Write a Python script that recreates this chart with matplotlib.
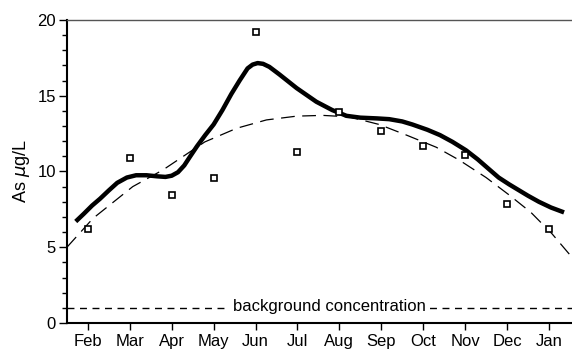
import numpy as np
import matplotlib.pyplot as plt

plt.rcParams['font.family'] = ['Liberation Sans', 'DejaVu Sans']

# Months (Feb .. Jan) placed at positions 1..12
months = ["Feb", "Mar", "Apr", "May", "Jun", "Jul", "Aug", "Sep", "Oct", "Nov", "Dec", "Jan"]

# Measured As concentrations (squares)
as_measured = [6.2, 10.9, 8.45, 9.6, 19.2, 11.3, 13.9, 12.7, 11.7, 11.1, 7.85, 6.2]

# Smoothed curve (solid)
smooth_x = [0.71, 0.9, 1.1, 1.29, 1.5, 1.7, 1.93, 2.15, 2.4, 2.65, 2.85, 3.0, 3.15,
            3.3, 3.43, 3.6, 3.8, 4.0, 4.21, 4.42, 4.62, 4.81, 4.93, 5.05, 5.18,
            5.33, 5.57, 5.98, 6.45, 6.83, 7.17, 7.5, 7.9, 8.19, 8.5, 8.74, 9.1,
            9.4, 9.7, 10.02, 10.3, 10.57, 10.8, 11.05, 11.29, 11.5, 11.76, 12.05, 12.36]
smooth_y = [6.7, 7.2, 7.75, 8.2, 8.75, 9.25, 9.6, 9.75, 9.75, 9.68, 9.64, 9.72, 9.95,
            10.4, 10.95, 11.65, 12.4, 13.1, 14.05, 15.1, 16.0, 16.8, 17.05, 17.15, 17.1,
            16.9, 16.4, 15.5, 14.6, 14.05, 13.67, 13.55, 13.5, 13.45, 13.3, 13.1, 12.75,
            12.4, 11.95, 11.4, 10.8, 10.15, 9.6, 9.15, 8.75, 8.4, 8.0, 7.62, 7.3]

# Fitted curve (dashed)
fit_x = [0.5, 1.12, 2.07, 2.79, 3.79, 4.55, 5.26, 5.98, 6.6, 7.24, 7.95, 8.6, 9.31,
         9.86, 10.5, 11.05, 11.57, 12.07, 12.5]
fit_y = [5.0, 6.9, 9.0, 10.1, 11.95, 12.85, 13.4, 13.65, 13.7, 13.6, 13.1, 12.4, 11.6,
         10.75, 9.6, 8.45, 7.3, 5.9, 4.5]

background = 1.0

x = np.arange(1, 13)

fig = plt.figure(figsize=(5.72, 3.55), dpi=100)
ax = fig.add_axes([0.117, 0.09, 0.883, 0.854])

ax.plot(smooth_x, smooth_y, color='black', linewidth=3.2, solid_capstyle='butt',
        solid_joinstyle='round')
ax.plot(fit_x, fit_y, color='black', linewidth=0.9, dashes=(11, 6))
ax.plot(x, as_measured, linestyle='none', marker='s', markersize=5,
        markerfacecolor='white', markeredgecolor='black', markeredgewidth=1.2)

ax.axhline(background, color='black', linewidth=1.0, dashes=(5, 4))
ax.text(6.76, background + 0.12, "background concentration", ha='center', va='center',
        fontsize=12, bbox=dict(facecolor='white', edgecolor='none', pad=3))

ax.set_xlim(0.5, 12.55)
ax.set_ylim(0, 20)
ax.set_xticks(x)
ax.set_xticklabels(months)
ax.set_yticks([0, 5, 10, 15, 20])
ax.set_yticks(np.arange(0, 21, 1), minor=True)
ax.tick_params(axis='both', direction='out', labelsize=12, width=1.0)
ax.tick_params(axis='y', which='major', length=6, pad=2)
ax.tick_params(axis='y', which='minor', length=3.5, width=1.0)
ax.tick_params(axis='x', which='major', length=5, pad=3)

ax.spines['right'].set_visible(False)
ax.spines['left'].set_linewidth(1.5)
ax.spines['bottom'].set_linewidth(1.5)
ax.spines['top'].set_linewidth(1.0)
ax.spines['top'].set_color('#555555')

ax.set_ylabel(r"As $\mu$g/L", fontsize=13, labelpad=4)

fig.savefig("out.png", dpi=100)
